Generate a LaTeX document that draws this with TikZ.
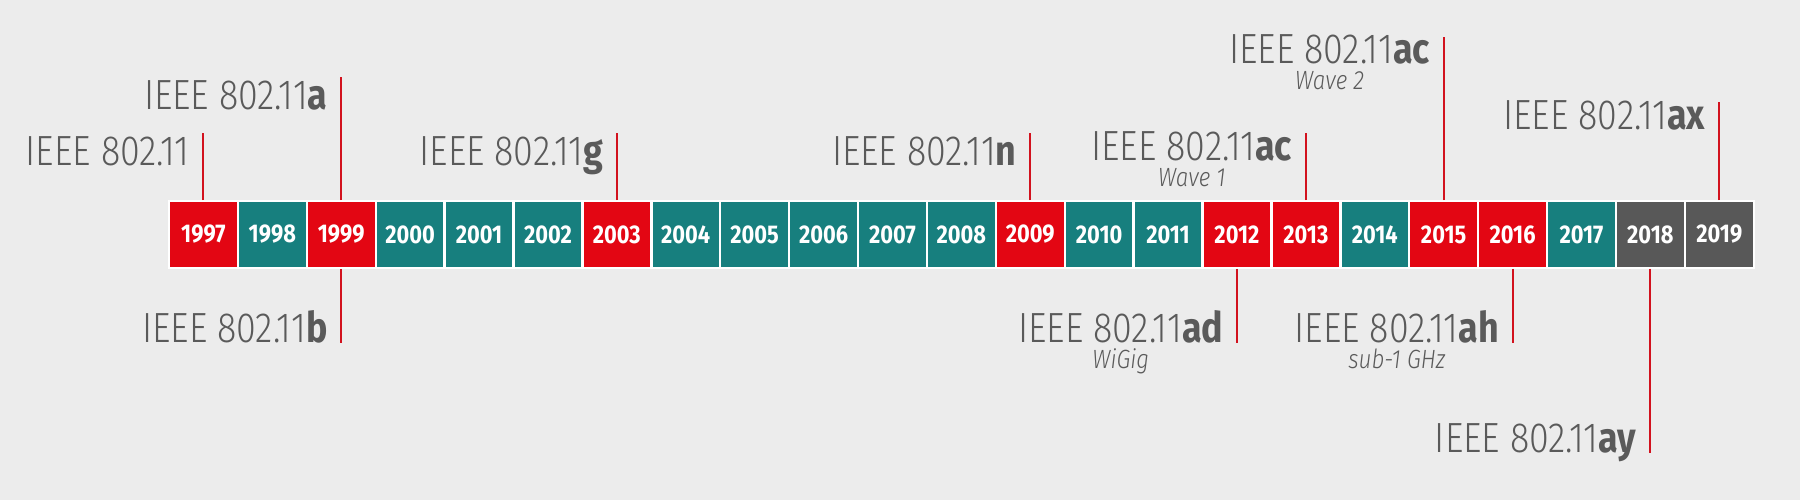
\documentclass[tikz,border=0pt]{standalone}
\usepackage{fontspec}
\setmainfont{Fira Sans}[FakeStretch=0.85, UprightFont=* Light, ItalicFont=* Light Italic, BoldFont=* Bold]
\definecolor{wred}{HTML}{E30613}
\definecolor{wteal}{HTML}{177F7E}
\definecolor{wgrey}{HTML}{585858}
\definecolor{wtext}{HTML}{5A5A5A}
\definecolor{wline}{HTML}{D2121E}
\definecolor{wback}{HTML}{ECECEC}

\begin{document}
\begin{tikzpicture}[x=0.1mm,y=-0.1mm,
    yearbox/.style={fill=#1, draw=white, line width=0.24mm, minimum width=6.89mm,
      minimum height=6.65mm, inner sep=0, text=white, font=\bfseries\fontsize{7.3}{8}\selectfont},
    stdlbl/.style={inner sep=0, text=wtext, font=\fontsize{12}{14}\selectfont},
    sublbl/.style={inner sep=0, text=wtext, font=\itshape\fontsize{7.5}{9}\selectfont},
    stdline/.style={draw=wline, line width=0.2mm}]
  \fill[wback] (0,0) rectangle (1800,500);
  \useasboundingbox (0,0) rectangle (1800,500);
  % years
  \foreach \yr/\col [count=\i from 0] in {1997/wred,1998/wteal,1999/wred,2000/wteal,
      2001/wteal,2002/wteal,2003/wred,2004/wteal,2005/wteal,2006/wteal,2007/wteal,
      2008/wteal,2009/wred,2010/wteal,2011/wteal,2012/wred,2013/wred,2014/wteal,
      2015/wred,2016/wred,2017/wteal,2018/wgrey,2019/wgrey}
    \node[yearbox=\col] (y\yr) at ({203.45+68.9*\i},234.5) {\yr};
  % standards above the bar
  \foreach \yr/\top/\dy/\sfx in {1997/133/33/{},1999/77/33/a,2003/133/33/g,2009/133/33/n,
      2013/133/28/ac,2015/37/27/ac,2019/102/28/ax} {
    \coordinate (t\yr) at (y\yr.north |- 0,\top);
    \draw[stdline] (y\yr.north) -- (t\yr);
    \node[stdlbl, anchor=base east] (l\yr) at ([shift={(-13,\dy)}] t\yr) {IEEE 802.11\textbf{\sfx}};
  }
  % standards below the bar
  \foreach \yr/\bot/\sfx in {1999/343/b,2012/343/ad,2016/343/ah,2018/453/ay} {
    \coordinate (b\yr) at (y\yr.south |- 0,\bot);
    \draw[stdline] (y\yr.south) -- (b\yr);
    \node[stdlbl, anchor=base east] (m\yr) at ([shift={(-13,0)}] b\yr) {IEEE 802.11\textbf{\sfx}};
  }
  \node[sublbl, anchor=base] (s2013) at ([yshift=-2.6mm] l2013.base) {Wave 1};
  \node[sublbl, anchor=base] (s2015) at ([yshift=-2.6mm] l2015.base) {Wave 2};
  \node[sublbl, anchor=base] (s2012) at ([yshift=-2.6mm] m2012.base) {WiGig};
  \node[sublbl, anchor=base] (s2016) at ([yshift=-2.6mm] m2016.base) {sub-1 GHz};
\end{tikzpicture}
\end{document}
